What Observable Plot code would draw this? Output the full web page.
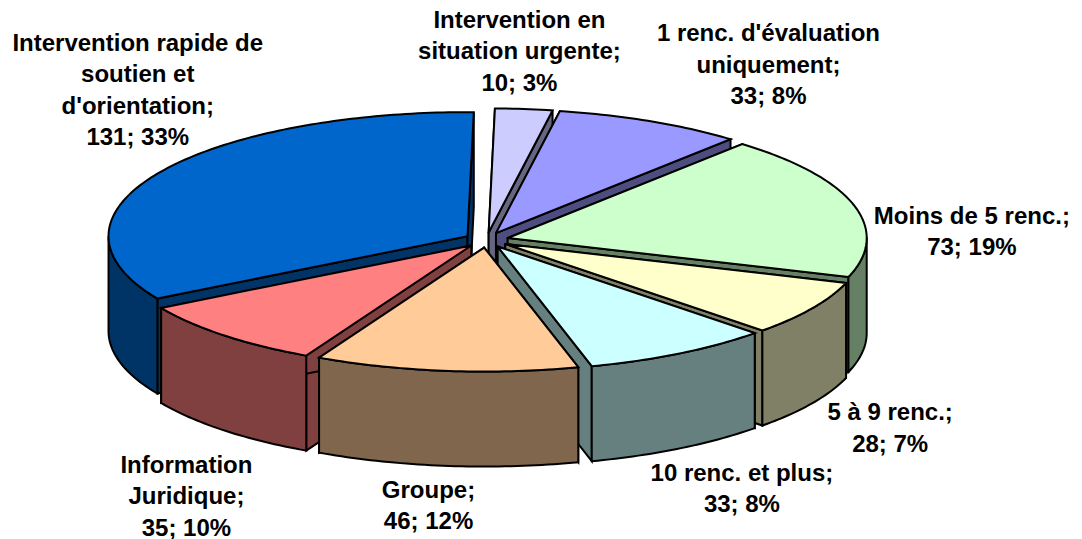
<!DOCTYPE html>
<html>
<head>
<meta charset="utf-8">
<script src="https://cdn.jsdelivr.net/npm/d3@7"></script>
<script src="https://cdn.jsdelivr.net/npm/@observablehq/plot@0.6"></script>
<style>html,body{margin:0;padding:0;background:#fff}svg{display:block}</style>
</head>
<body>
<div id="chart"></div>
<script>
// Data, clockwise from the top of the pie
const categories = [
  "Intervention en\nsituation urgente;",
  "1 renc. d'évaluation\nuniquement;",
  "Moins de 5 renc.;",
  "5 à 9 renc.;",
  "10 renc. et plus;",
  "Groupe;",
  "Information\nJuridique;",
  "Intervention rapide de\nsoutien et\nd'orientation;"
];
const values = [10, 33, 73, 28, 33, 46, 35, 131];
const percents = ["3%", "8%", "19%", "7%", "8%", "12%", "10%", "33%"];
const colors = ["#CCCCFF", "#9999FF", "#CCFFCC", "#FFFFCC", "#CCFFFF", "#FFCC99", "#FF8080", "#0066CC"];

// Pie layout
const W = 1082, H = 539;
const cx = 486, cy = 239.5, rx = 359, ry = 124, depth = 95, explode = 22, rotation = 1;
const squash = ry / rx, sideShade = 0.5;
const labelReachX = 383, labelReachY = 131.5;
const labelNudge = [[2, -59.5], [123, -57.5], [118, 26.5], [73, 119.5], [55.5, 134.5], [-24, 132.5], [-41, 157.5], [-15, -87.5]];

const total = d3.sum(values);
const rad = Math.PI / 180;
const cumulative = d3.cumsum(values);
const slices = values.map((v, i) => {
  const end = cumulative[i] / total * 360 + rotation;
  const start = end - v / total * 360;
  const mid = (start + end) / 2;
  return {i, start, end, mid,
    ox: cx + explode * Math.sin(mid * rad),
    oy: cy - explode * squash * Math.cos(mid * rad)};
});
const rim = (s, a, drop = 0) => [s.ox + rx * Math.sin(a * rad), s.oy - ry * Math.cos(a * rad) + drop];
const arc = (a0, a1) => {
  const n = Math.max(1, Math.ceil(Math.abs(a1 - a0)));
  return d3.range(n + 1).map(k => a0 + (a1 - a0) * k / n);
};
const shade = c => { const q = d3.rgb(c); return d3.rgb(q.r * sideShade, q.g * sideShade, q.b * sideShade).formatHex(); };

// Painter's order: back slices first
const order = d3.sort(slices, s => -Math.cos(s.mid * rad));
const points = [];
const addPoly = (id, fill, pts) => {
  [...pts, pts[0]].forEach(([x, y]) => points.push({id, fill, x, y}));
};
for (const s of order) {
  const top = colors[s.i], side = shade(top);
  const apex = [s.ox, s.oy], apexLow = [s.ox, s.oy + depth];
  addPoly(`${s.i}-a`, side, [apex, rim(s, s.start), rim(s, s.start, depth), apexLow]);
  addPoly(`${s.i}-b`, side, [apex, rim(s, s.end), rim(s, s.end, depth), apexLow]);
  const w0 = Math.max(s.start, 90), w1 = Math.min(s.end, 270);
  if (w1 > w0) {
    const a = arc(w0, w1);
    addPoly(`${s.i}-w`, side, [...a.map(t => rim(s, t)), ...a.slice().reverse().map(t => rim(s, t, depth))]);
  }
  addPoly(`${s.i}-t`, top, [apex, ...arc(s.start, s.end).map(t => rim(s, t))]);
}

const labelMarks = slices.map(s => Plot.text([s], {
  x: d => cx + labelReachX * Math.sin((d.mid - rotation) * rad),
  y: d => cy - labelReachY * Math.cos((d.mid - rotation) * rad),
  dx: labelNudge[s.i][0],
  dy: labelNudge[s.i][1],
  text: d => `${categories[d.i]}\n${values[d.i]}; ${percents[d.i]}`,
  fontFamily: "Liberation Sans",
  fontWeight: "bold",
  fontSize: 24,
  lineHeight: 1.31,
  fill: "#000"
}));

const chart = Plot.plot({
  width: W, height: H,
  marginTop: 0, marginRight: 0, marginBottom: 0, marginLeft: 0,
  x: {domain: [0, W], axis: null},
  y: {domain: [H, 0], axis: null},
  color: {type: "identity"},
  style: {background: "#fff"},
  marks: [
    Plot.line(points, {x: "x", y: "y", z: "id", fill: "fill", stroke: "#000",
      strokeWidth: 2, strokeLinejoin: "miter", strokeMiterlimit: 4, curve: "linear"}),
    ...labelMarks
  ]
});
document.getElementById("chart").appendChild(chart);
</script>
</body>
</html>
